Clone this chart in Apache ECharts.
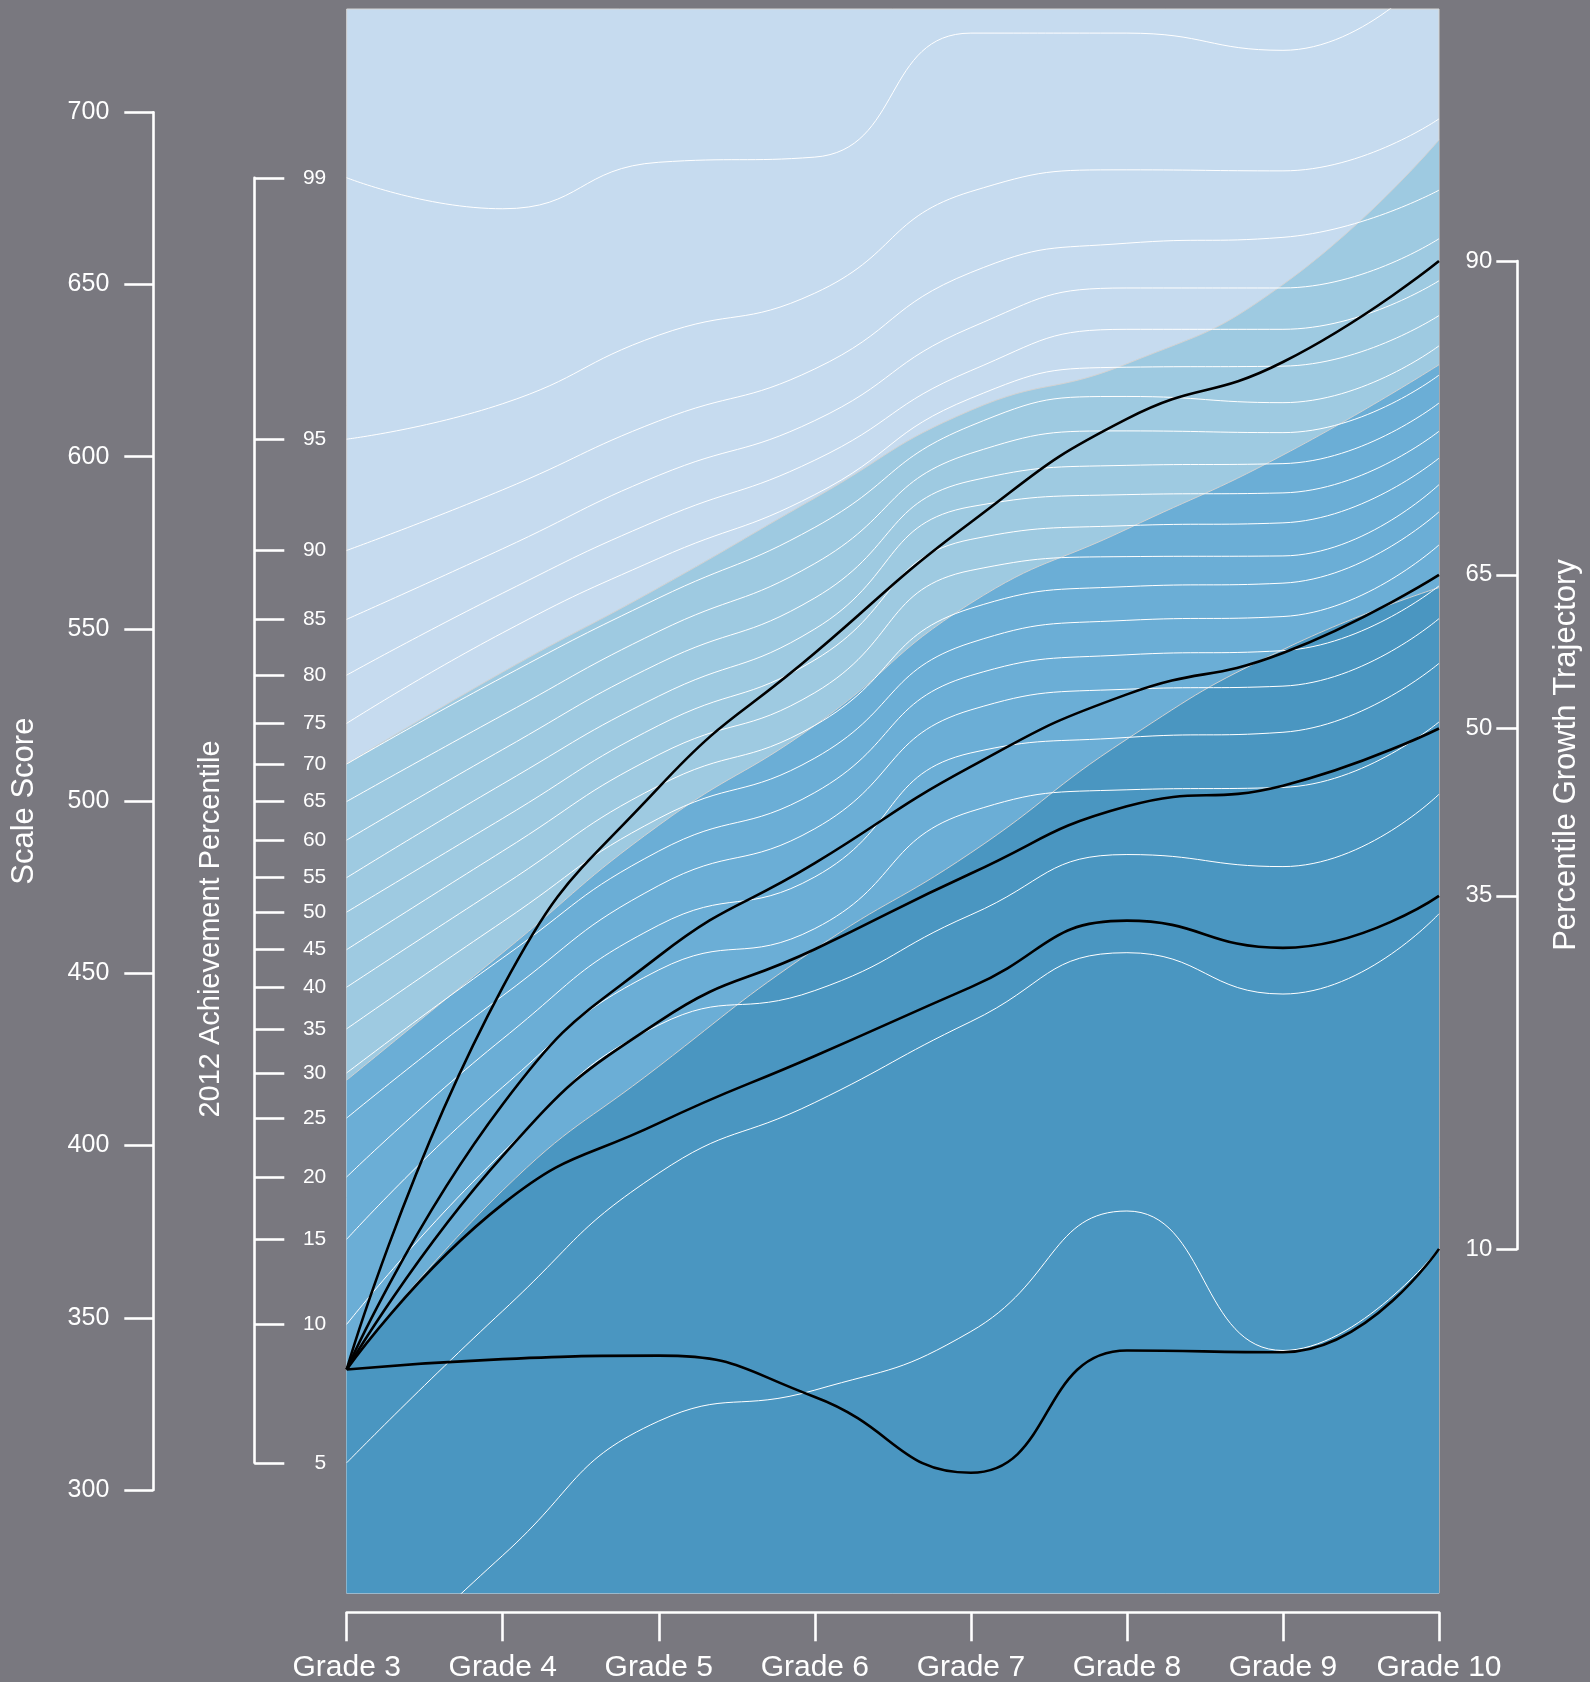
<!DOCTYPE html>
<html>
<head>
<meta charset="utf-8">
<script src="https://cdn.jsdelivr.net/npm/echarts@6/dist/echarts.min.js"></script>
<style>
html, body { margin: 0; padding: 0; background: #79787f; }
#container { width: 1590px; height: 1682px; }
</style>
</head>
<body>
<div id="container"></div>
<script>
// grades on the x axis
var grades = [3, 4, 5, 6, 7, 8, 9, 10];

// achievement percentile curves (scale score at each grade)
var p01 = [238, 281, 320, 329, 346, 381, 340.5, 370];
var p05 = [307.9, 352, 392, 412.5, 436, 456, 444, 467.3];
var p10 = [348.1, 398, 435, 445, 467, 484.5, 481, 502];
var p15 = [372.8, 417, 451, 463, 497, 503.3, 504, 523];
var p20 = [390.9, 431, 464, 478, 514, 518.5, 520, 540];
var p25 = [408, 443.5, 475.5, 492, 526.5, 532.5, 533.4, 553];
var p30 = [421.1, 454.5, 485.5, 502.5, 536.5, 542.5, 543.7, 562.5];
var p35 = [433.9, 465, 495, 512.5, 546, 552.5, 553.6, 574.4];
var p40 = [446, 475.5, 504.5, 522, 556, 562.3, 563.3, 584];
var p45 = [456.9, 485.5, 513.5, 531.5, 567, 571, 571.2, 591.9];
var p50 = [467.8, 495, 522, 541, 576, 580, 580.8, 599.6];
var p55 = [477.8, 505, 530.5, 550, 585.5, 589, 589.5, 607.4];
var p60 = [488.7, 515, 540, 559, 593, 597.5, 598, 615.6];
var p65 = [499.9, 525, 549.3, 569, 601, 607.5, 607, 623.7];
var p70 = [510.8, 536, 559, 579.5, 609, 617.5, 615.7, 632.2];
var p75 = [522.6, 548.9, 570.5, 589, 617, 626, 626.3, 641];
var p80 = [536.6, 560.4, 581.7, 599, 625, 637, 637, 651.1];
var p85 = [552.8, 573.3, 594.6, 610.5, 637.5, 649, 649, 663.3];
var p90 = [572.8, 590.4, 610.4, 625.5, 653.5, 662, 663.7, 677.4];
var p95 = [605.1, 615.4, 635.3, 647.5, 677, 683.3, 683, 698.1];
var p99 = [681, 672, 685.5, 687, 723, 723, 718, 743];

// achievement level cut scores (band edges)
var cut1 = [510.8, 537.5, 562, 588, 613.5, 627, 650, 692];
var cut2 = [419, 456, 493, 522, 557.5, 579, 600.5, 626.7];
var cut3 = [335, 387, 423, 457, 485, 518, 544, 562];

// growth trajectories
var traj90 = [335, 446, 504, 543, 581, 611, 627.5, 656.8];
var traj65 = [335, 412, 455, 482, 510, 531, 543, 565.7];
var traj50 = [335, 397, 436, 457, 479, 498.5, 504.5, 521.1];
var traj35 = [335, 383, 406.5, 426, 446, 465.3, 457.4, 472.5];
var traj10 = [335, 338, 339, 327, 305, 340.5, 340, 370];

// tick labels
var pctTickLabels = [5, 10, 15, 20, 25, 30, 35, 40, 45, 50, 55, 60, 65, 70, 75, 80, 85, 90, 95, 99];
var trajTickLabels = [90, 65, 50, 35, 10];

var pctLines = [p01, p05, p10, p15, p20, p25, p30, p35, p40, p45, p50, p55, p60, p65, p70, p75, p80, p85, p90, p95, p99];
var pctTickCurves = [p05, p10, p15, p20, p25, p30, p35, p40, p45, p50, p55, p60, p65, p70, p75, p80, p85, p90, p95, p99];
var trajs = [traj90, traj65, traj50, traj35, traj10];

var bandColors = ['#c6dbef', '#9ecae1', '#6baed6', '#4a96c1'];
var FONT = 'Liberation Sans, Arial, sans-serif';

// plot geometry
var plotLeft = 346.7, plotTop = 9, plotRight = 1439, plotBottom = 1593.3;
var yMin = 270, yMax = 730;
var pxPer = (plotBottom - plotTop) / (yMax - yMin);
function yPix(v) { return plotTop + (yMax - v) * pxPer; }

function pairs(arr) {
    return grades.map(function (g, i) { return [g, arr[i]]; });
}

var pctTickVals = pctTickCurves.map(function (a) { return a[0]; });
var trajTickVals = trajs.map(function (a) { return a[a.length - 1]; });

function lookup(vals, labels, v) {
    for (var i = 0; i < vals.length; i++) {
        if (Math.abs(vals[i] - v) < 0.01) return String(labels[i]);
    }
    return '';
}

var series = [];
// bands, filled down to the axis bottom
[cut1, cut2, cut3].forEach(function (c, i) {
    series.push({
        type: 'line', xAxisIndex: 0, yAxisIndex: 0,
        data: pairs(c), smooth: 0.5, symbol: 'none',
        lineStyle: { color: '#d2d2d2', width: 1 },
        areaStyle: { color: bandColors[i + 1], opacity: 1, origin: 'start' },
        silent: true
    });
});
// percentile curves
pctLines.forEach(function (p) {
    series.push({
        type: 'line', xAxisIndex: 0, yAxisIndex: 0,
        data: pairs(p), smooth: 0.5, symbol: 'none',
        lineStyle: { color: '#ffffff', width: 1 },
        silent: true
    });
});
// trajectories
trajs.forEach(function (t) {
    series.push({
        type: 'line', xAxisIndex: 0, yAxisIndex: 0,
        data: pairs(t), smooth: 0.5, symbol: 'none',
        lineStyle: { color: '#000000', width: 2.6 },
        silent: true
    });
});

var axisWhite = { lineStyle: { color: '#ffffff', width: 2.6 } };

var option = {
    backgroundColor: '#79787f',
    animation: false,
    textStyle: { fontFamily: FONT },
    grid: [
        { left: plotLeft, top: plotTop, width: plotRight - plotLeft, height: plotBottom - plotTop,
          outerBoundsMode: 'none', containLabel: false,
          show: true, backgroundColor: bandColors[0], borderColor: '#d6d6d6', borderWidth: 1 },
        { left: 153.3, width: 10, top: yPix(700), height: yPix(300) - yPix(700),
          outerBoundsMode: 'none', containLabel: false },
        { left: 254.3, width: 10, top: yPix(p99[0]), height: yPix(p05[0]) - yPix(p99[0]),
          outerBoundsMode: 'none', containLabel: false },
        { left: 1517.3, width: 10, top: yPix(traj90[7]), height: yPix(traj10[7]) - yPix(traj90[7]),
          outerBoundsMode: 'none', containLabel: false }
    ],
    xAxis: [
        {
            gridIndex: 0, type: 'value', min: 3, max: 10, interval: 1, offset: 19,
            axisLine: axisWhite,
            axisTick: { length: 29, lineStyle: { color: '#ffffff', width: 2.6 } },
            axisLabel: { color: '#ffffff', fontSize: 30, margin: 40, fontFamily: FONT,
                         formatter: function (v) { return 'Grade ' + v; } },
            splitLine: { show: false }
        },
        { gridIndex: 1, type: 'value', show: false },
        { gridIndex: 2, type: 'value', show: false },
        { gridIndex: 3, type: 'value', show: false }
    ],
    yAxis: [
        { gridIndex: 0, type: 'value', min: yMin, max: yMax, show: false, splitLine: { show: false } },
        {
            gridIndex: 1, type: 'value', min: 300, max: 700, interval: 50, position: 'left',
            name: 'Scale Score', nameLocation: 'middle', nameRotate: 90, nameGap: 113,
            nameTextStyle: { color: '#ffffff', fontSize: 31, fontFamily: FONT },
            axisLine: { show: true, lineStyle: { color: '#ffffff', width: 2.6 } },
            axisTick: { show: true, length: 29, lineStyle: { color: '#ffffff', width: 2.6 } },
            axisLabel: { color: '#ffffff', fontSize: 25, margin: 44, fontFamily: FONT },
            splitLine: { show: false }
        },
        {
            gridIndex: 2, type: 'value', min: p05[0], max: p99[0], position: 'left',
            axisLine: { show: true, lineStyle: { color: '#ffffff', width: 2.6 } },
            axisTick: { show: true, inside: true, length: 30, customValues: pctTickVals,
                        lineStyle: { color: '#ffffff', width: 2.6 } },
            axisLabel: { inside: true, align: 'right', margin: 72, color: '#ffffff', fontSize: 21,
                         fontFamily: FONT, customValues: pctTickVals,
                         formatter: function (v) { return lookup(pctTickVals, pctTickLabels, v); } },
            splitLine: { show: false }
        },
        {
            gridIndex: 3, type: 'value', min: traj10[7], max: traj90[7], position: 'right',
            name: 'Percentile Growth Trajectory', nameLocation: 'middle', nameRotate: 90, nameGap: 24,
            nameTextStyle: { color: '#ffffff', fontSize: 31, fontFamily: FONT },
            axisLine: { show: true, lineStyle: { color: '#ffffff', width: 2.6 } },
            axisTick: { show: true, inside: true, length: 21, customValues: trajTickVals,
                        lineStyle: { color: '#ffffff', width: 2.6 } },
            axisLabel: { inside: true, align: 'right', margin: 35, color: '#ffffff', fontSize: 24,
                         fontFamily: FONT, customValues: trajTickVals,
                         formatter: function (v) { return lookup(trajTickVals, trajTickLabels, v); } },
            splitLine: { show: false }
        }
    ],
    graphic: [
        {
            type: 'text', x: 211, y: 929, rotation: Math.PI / 2,
            style: { text: '2012 Achievement Percentile', fill: '#ffffff', font: '29px ' + FONT,
                     align: 'center', verticalAlign: 'middle' }
        }
    ],
    series: series
};

var myChart = echarts.init(document.getElementById('container'));
myChart.setOption(option);
</script>
</body>
</html>
